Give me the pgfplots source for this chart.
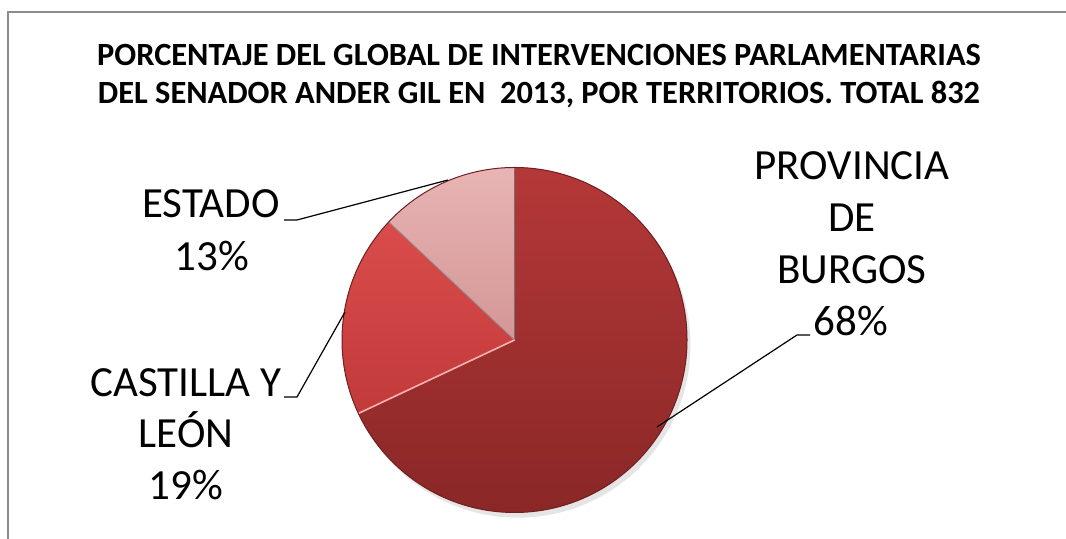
\documentclass[border=0pt]{standalone}
\usepackage{fontspec}
\setmainfont{Carlito}
\usepackage{pgfplots}
\pgfplotsset{compat=1.18}
\usepackage{pgfplotstable}

\definecolor{burgosTop}{HTML}{B53838}
\definecolor{burgosBot}{HTML}{8A2727}
\definecolor{castTop}{HTML}{DA4C4C}
\definecolor{castBot}{HTML}{C23A3A}
\definecolor{estTop}{HTML}{E8B4B4}
\definecolor{estBot}{HTML}{D49696}
\definecolor{framegray}{HTML}{8C8C8C}

% share of the 832 interventions, in %
\pgfplotstableread[col sep=comma]{
territorio,valor
burgos,68
castilla,19
estado,13
}\piedata

% image pixel -> picture coordinate (y measured from the top)
\def\P(#1,#2){(#1,539-#2)}

\begin{document}
\begin{tikzpicture}[x=0.5bp,y=0.5bp]
\path[use as bounding box] (0,0) rectangle (1066,539);
\draw[framegray, line width=0.6bp] (8,0) -- (8,527) -- (1066,527);

% angles, clockwise from 12 o'clock
\pgfplotstablegetelem{0}{valor}\of\piedata \edef\vA{\pgfplotsretval}
\pgfplotstablegetelem{1}{valor}\of\piedata \edef\vB{\pgfplotsretval}
\pgfplotstablegetelem{2}{valor}\of\piedata \edef\vC{\pgfplotsretval}
\pgfmathsetmacro\aA{90-3.6*\vA}
\pgfmathsetmacro\aB{\aA-3.6*\vB}
\pgfmathsetmacro\aC{\aB-3.6*\vC}

\begin{axis}[
  at={(171bp,13.25bp)}, anchor=south west,
  scale only axis, width=172.5bp, height=172.5bp,
  xmin=-1, xmax=1, ymin=-1, ymax=1,
  hide axis, clip=false,
]
\fill[black, opacity=0.10] (axis cs:0.02,-0.03) circle[radius=86.25bp];
\shade[top color=burgosTop, bottom color=burgosBot]
  (axis cs:0,0) -- ++(90:86.25bp) arc[start angle=90, end angle=\aA, radius=86.25bp] -- cycle;
\shade[top color=castTop, bottom color=castBot]
  (axis cs:0,0) -- ++(\aA:86.25bp) arc[start angle=\aA, end angle=\aB, radius=86.25bp] -- cycle;
\shade[top color=estTop, bottom color=estBot]
  (axis cs:0,0) -- ++(\aB:86.25bp) arc[start angle=\aB, end angle=\aC, radius=86.25bp] -- cycle;
\draw[black!55, line width=0.5bp] (axis cs:0,0) -- ++(90:86.25bp);
\draw[black!45, line width=0.4bp] (axis cs:0,0) -- ++(\aB:86.25bp);
\draw[red!30!white, line width=0.8bp] (axis cs:0,0) -- ++(\aA:86.25bp);
\draw[burgosBot!80!black, line width=0.5bp] (axis cs:0,0) circle[radius=86.25bp];
\end{axis}

% title
\node[anchor=base, font=\fontsize{16.2bp}{19bp}\selectfont\bfseries] at \P(539,66)
  {PORCENTAJE DEL GLOBAL DE INTERVENCIONES PARLAMENTARIAS};
\node[anchor=base, font=\fontsize{16.2bp}{19bp}\selectfont\bfseries] at \P(539,104)
  {DEL SENADOR ANDER GIL EN\ \ 2013, POR TERRITORIOS. TOTAL 832};

% data labels
\begin{scope}[every node/.style={anchor=base, inner sep=0pt, font=\fontsize{21.5bp}{25bp}\selectfont}]
\node at \P(852,180) {PROVINCIA};
\node at \P(852,232) {DE};
\node at \P(852,284) {BURGOS};
\node at \P(851,336) {68\%};
\node at \P(211,218) {ESTADO};
\node at \P(212,271) {13\%};
\node at \P(186,397) {CASTILLA Y};
\node at \P(186,448) {LEÓN};
\node at \P(186,500) {19\%};
\end{scope}

% leader lines
\draw[black, line width=0.6bp] \P(810,335) -- \P(797,335) -- \P(657,427);
\draw[black, line width=0.6bp] \P(284,220) -- \P(297,220) -- \P(448,180);
\draw[black, line width=0.6bp] \P(284,397) -- \P(297,397) -- \P(345,312);
\end{tikzpicture}
\end{document}
